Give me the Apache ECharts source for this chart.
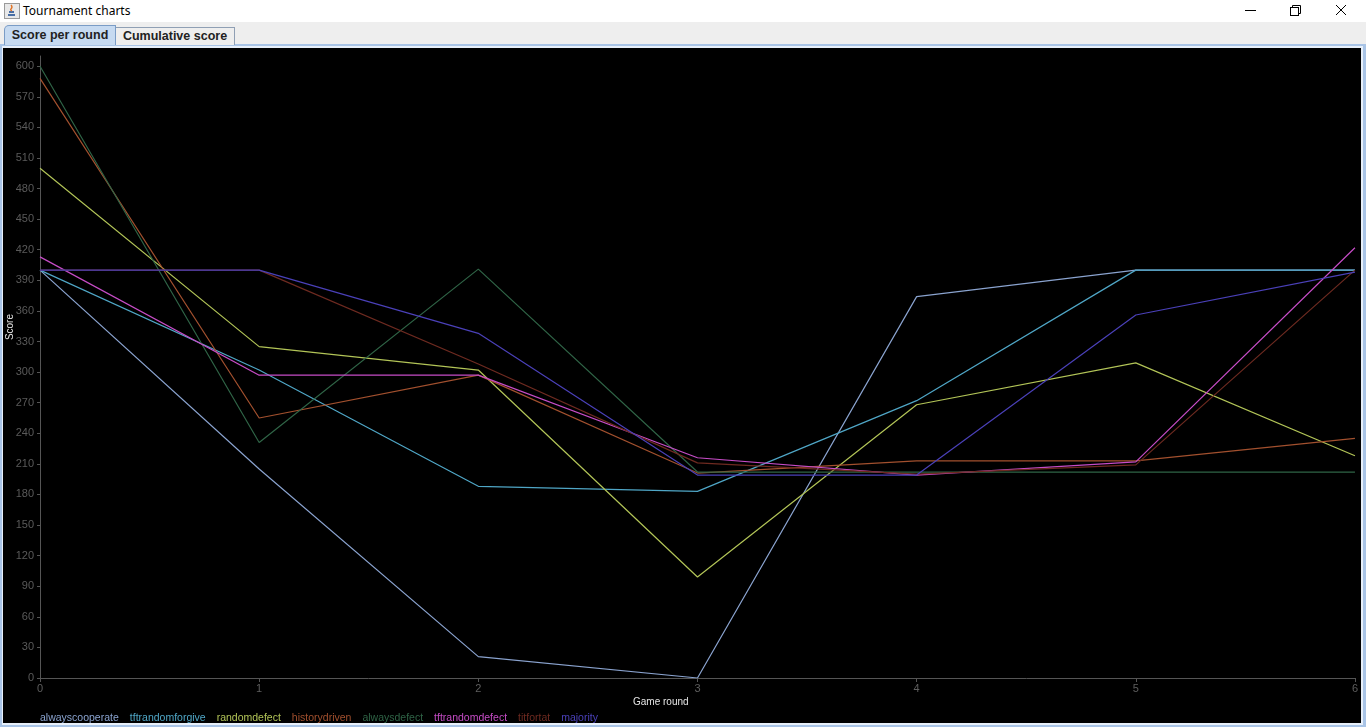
<!DOCTYPE html>
<html>
<head>
<meta charset="utf-8">
<script src="https://cdn.jsdelivr.net/npm/echarts@6/dist/echarts.min.js"></script>
<style>
  html, body { margin:0; padding:0; width:1366px; height:727px; overflow:hidden; background:#eeeeee; font-family:"Liberation Sans", Arial, sans-serif; }
  #titlebar { position:absolute; left:0; top:0; width:1366px; height:22px; background:#ffffff; }
  #title { position:absolute; left:23px; top:3px; font-size:12px; color:#000; font-family:"Noto Sans","Liberation Sans",sans-serif; line-height:16px; }
  #panelBorder { position:absolute; left:0; top:44px; width:1366px; height:683px; background:#a9c4e6; }
  #panelInner { position:absolute; left:2px; top:46px; width:1361px; height:679px; background:#e8f0fa; }
  #chart { position:absolute; left:3px; top:48px; width:1358px; height:675px; background:#000; }
  .tab { position:absolute; box-sizing:border-box; font-weight:bold; font-size:12.5px; color:#222; text-align:center; }
  #tab1 { left:4px; top:25px; width:112px; height:20px; background:#c6daf1; border:1px solid #7a9cc6; border-bottom:none; line-height:18px; border-top-left-radius:5px 5px; }
  #tab2 { left:116px; top:27px; width:119px; height:18px; background:#eeeeee; border:1px solid #8f9fb4; border-bottom:none; border-left:none; line-height:16px; }
</style>
</head>
<body>
<div id="titlebar">
  <svg style="position:absolute;left:4px;top:3px" width="16" height="16" viewBox="0 0 16 16">
    <rect x="0.5" y="0.5" width="15" height="15" fill="#e8e8e8" stroke="#9a9a9a"/>
    <path d="M4 11 h7 v2 h-7 z" fill="#4a6fa5"/>
    <path d="M5 8 h5 v2 h-5 z" fill="#4a6fa5"/>
    <path d="M7 2 q2 2 0 4 q-1 1 1 2" stroke="#e07020" stroke-width="1.3" fill="none"/>
  </svg>
  <div id="title">Tournament charts</div>
  <svg style="position:absolute;left:1236px;top:0" width="130" height="22">
    <line x1="9" y1="10.5" x2="20" y2="10.5" stroke="#000" stroke-width="1"/>
    <rect x="54.5" y="7.5" width="8" height="8" fill="none" stroke="#000"/>
    <path d="M56.5 7.5 v-2 h8 v8 h-2" fill="none" stroke="#000"/>
    <line x1="100" y1="5" x2="110" y2="15" stroke="#000" stroke-width="1"/>
    <line x1="110" y1="5" x2="100" y2="15" stroke="#000" stroke-width="1"/>
  </svg>
</div>
<div id="panelBorder"></div>
<div id="panelInner"></div>
<div class="tab" id="tab1">Score per round</div>
<div class="tab" id="tab2">Cumulative score</div>
<div id="chart"></div>
<script>
// ---- data ----
var rounds = ['0', '1', '2', '3', '4', '5', '6'];
var yTicks = [0, 30, 60, 90, 120, 150, 180, 210, 240, 270, 300, 330, 360, 390, 420, 450, 480, 510, 540, 570, 600];
var strategyNames = ['alwayscooperate', 'tftrandomforgive', 'randomdefect', 'historydriven', 'alwaysdefect', 'tftrandomdefect', 'titfortat', 'majority'];
var alwayscooperate  = [400, 205, 21, 0, 374, 400, 400];
var tftrandomforgive = [400, 302, 188, 183, 272, 400, 400];
var randomdefect     = [500, 325, 302, 99, 268, 309, 218];
var historydriven    = [588, 255, 297, 201, 213, 213, 235];
var alwaysdefect     = [600, 231, 401, 202, 202, 202, 202];
var tftrandomdefect  = [413, 297, 297, 216, 199, 212, 422];
var titfortat        = [400, 400, 308, 211, 200, 209, 400];
var majority         = [400, 400, 338, 199, 199, 356, 398];
var seriesValues = [alwayscooperate, tftrandomforgive, randomdefect, historydriven, alwaysdefect, tftrandomdefect, titfortat, majority];

// ---- styles ----
var colors = ['#8aa3cf', '#4fa6c6', '#b2c457', '#a2502e', '#2f6446', '#c64cc6', '#6e2a20', '#4a40b8'];
var FONT = '"Liberation Sans", Arial, sans-serif';

var chart = echarts.init(document.getElementById('chart'), null, {renderer: 'canvas'});
chart.setOption({
  backgroundColor: '#000000',
  animation: false,
  grid: {left: 37, right: 5, top: 8, bottom: 45, containLabel: false},
  xAxis: {
    type: 'category',
    data: rounds,
    boundaryGap: false,
    axisLine: {lineStyle: {color: '#555555', width: 1}},
    axisTick: {show: true, length: 4, lineStyle: {color: '#555555'}},
    axisLabel: {color: '#5e5e5e', fontSize: 11, fontFamily: FONT, margin: 5},
    splitLine: {show: false}
  },
  yAxis: {
    type: 'value',
    min: 0,
    max: 610,
    axisLine: {show: true, lineStyle: {color: '#555555', width: 1}},
    axisTick: {show: true, length: 3, customValues: yTicks, lineStyle: {color: '#555555'}},
    axisLabel: {color: '#5a5a5a', fontSize: 11, fontFamily: FONT, margin: 6, customValues: yTicks},
    splitLine: {show: false}
  },
  legend: {
    left: 32,
    top: 665,
    icon: 'none',
    itemWidth: 0,
    itemHeight: 0,
    itemGap: 6,
    padding: 0,
    textStyle: {fontSize: 10.5, fontFamily: FONT},
    data: strategyNames.map(function (n, i) { return {name: n, textStyle: {color: colors[i]}}; })
  },
  graphic: [
    {type: 'text', left: 2, top: 266, rotation: Math.PI / 2,
     style: {text: 'Score', fill: '#e6e6e6', fontSize: 10, fontFamily: FONT}},
    {type: 'text', left: 630, top: 649,
     style: {text: 'Game round', fill: '#e6e6e6', fontSize: 10, fontFamily: FONT}}
  ],
  series: strategyNames.map(function (n, i) {
    return {
      name: n,
      type: 'line',
      data: seriesValues[i],
      symbol: 'none',
      color: colors[i],
      lineStyle: {width: 1.2, color: colors[i]},
      z: 2 + i
    };
  })
});
</script>
</body>
</html>
